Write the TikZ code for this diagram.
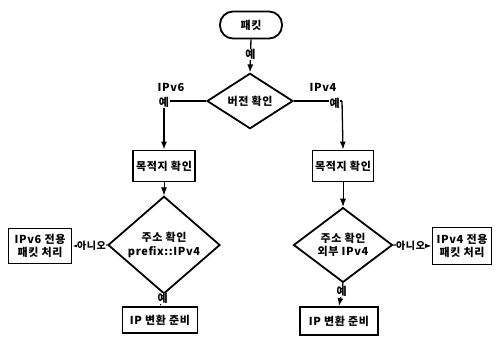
\documentclass[tikz,border=0pt]{standalone}
\usepackage{fontspec}
\setmainfont{Noto Sans CJK KR}[LetterSpace=6]
\usetikzlibrary{shapes.geometric,arrows.meta}

\tikzset{every picture/.style={line width=1.3pt}}
\tikzset{
  boxnode/.style={draw,rectangle,line width=1.8pt,inner sep=0pt,align=center,font=\fontsize{11}{13.5}\selectfont\bfseries},
  decnode/.style={draw,diamond,line width=1.8pt,inner sep=0pt,align=center,font=\fontsize{11}{13.5}\selectfont\bfseries},
  lbl/.style={inner sep=0.5pt,font=\fontsize{11}{13}\selectfont\bfseries},
  arr/.style={-{Latex[length=8pt,width=6pt]}}
}

\begin{document}
\begin{tikzpicture}[x=1pt,y=1pt,yscale=-1,xscale=1]
		\useasboundingbox (0,0) rectangle (496,341);
		
		%Shape: Terminal [id:start]
		\node [boxnode,rounded corners=13pt,minimum width=62,minimum height=27] (start) at (251,25) {패킷};
		%Shape: Diamond [id:ver]
		\node [decnode,minimum width=86,minimum height=35] (ver) at (250,101) {버전 확인};
		
		%Shape: Rectangle [id:dstL]
		\node [boxnode,minimum width=62,minimum height=31] (dstL) at (164,166) {목적지 확인};
		%Shape: Rectangle [id:dstR]
		\node [boxnode,minimum width=61,minimum height=31] (dstR) at (343,166) {목적지 확인};
		
		%Shape: Diamond [id:chkL]
		\node [decnode,minimum width=112,minimum height=65] (chkL) at (164,245) {주소 확인\\prefix::IPv4};
		%Shape: Diamond [id:chkR]
		\node [decnode,minimum width=99,minimum height=65] (chkR) at (343,245) {주소 확인\\외부 IPv4};
		
		%Shape: Rectangle [id:v6box]
		\node [boxnode,minimum width=63,minimum height=35] (v6box) at (40,246) {IPv6 전용\\패킷 처리};
		%Shape: Rectangle [id:v4box]
		\node [boxnode,minimum width=59,minimum height=37] (v4box) at (462,246) {IPv4 전용\\패킷 처리};
		
		%Shape: Rectangle [id:ipL]
		\node [boxnode,minimum width=75,minimum height=26] (ipL) at (160,320) {IP 변환 준비};
		%Shape: Rectangle [id:ipR]
		\node [boxnode,minimum width=78,minimum height=28] (ipR) at (339,321) {IP 변환 준비};
		
		\coordinate (cornerL) at (164,101);
		\coordinate (cornerR) at (342,101);
		
		%Straight Lines [id:start-ver]
		\draw [arr] (start.south) -- node [lbl,fill=white,pos=0.45] {예} (ver.north);
		%Straight Lines [id:ver-dstL]
		\draw (ver.west) -- (cornerL);
		\draw [arr] (cornerL) -- (dstL.north);
		\node [lbl,fill=white] (yesL) at (164,102) {예};
		\node [lbl] (ipv6) at (171,87) {IPv6};
		%Straight Lines [id:ver-dstR]
		\draw (ver.east) -- (cornerR);
		\draw [arr] (cornerR) -- (dstR.north);
		\node [lbl,fill=white,anchor=east] (yesR) at (341,103) {예};
		\node [lbl] (ipv4) at (323,87) {IPv4};
		
		%Straight Lines [id:dst-chk]
		\draw [arr,line width=0.8pt] (dstL.south) -- (chkL.north);
		\draw [arr,line width=0.8pt] (dstR.south) -- (chkR.north);
		
		%Straight Lines [id:chk-no]
		\draw [arr] (chkL.west) -- node [lbl,fill=white,font=\fontsize{10}{12}\selectfont\bfseries,pos=0.45] {아니오} (v6box.east);
		\draw [arr] (chkR.east) -- node [lbl,fill=white,font=\fontsize{10}{12}\selectfont\bfseries,pos=0.45] {아니오} (v4box.west);
		
		%Straight Lines [id:chk-ip]
		\draw [arr] (chkL.south) -- node [lbl,fill=white,pos=0.35] {예} (ipL.north);
		\draw [arr] (chkR.south) -- node [lbl,fill=white,pos=0.35] {예} (ipR.north);
	\end{tikzpicture}
\end{document}
